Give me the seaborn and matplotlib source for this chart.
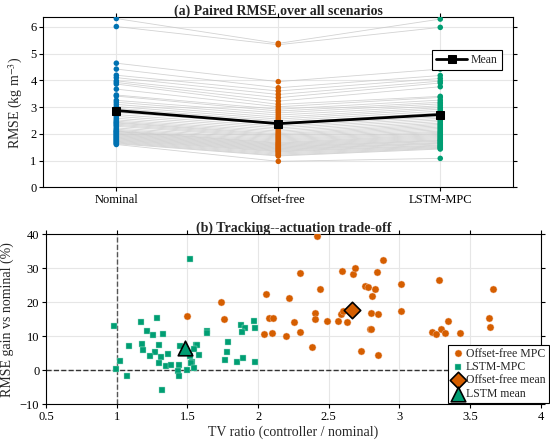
import numpy as np
import pandas as pd
import matplotlib
matplotlib.use("Agg")
import matplotlib.pyplot as plt
import seaborn as sns

# --- data --------------------------------------------------------------
controllers = ["Nominal", "Offset-free", "LSTM-MPC"]

rmse_nominal = [6.31, 6.01, 4.64, 4.42, 4.19, 4.10, 3.98, 3.92, 3.86, 3.67,
                3.45, 3.41, 3.25, 3.18, 3.10, 3.02, 2.95, 2.88, 2.80, 2.72,
                2.65, 2.58, 2.52, 2.47, 2.43, 2.40, 2.36, 2.32, 2.28, 2.22,
                2.17, 2.13, 2.10, 2.08, 2.05, 2.02, 1.99, 1.96, 1.93, 1.90,
                1.87, 1.84, 1.81, 1.78, 1.75, 1.72, 1.69, 1.66, 1.63, 1.60]
rmse_offset = [5.38, 5.33, 3.95, 3.72, 3.60, 3.47, 3.35, 3.22, 3.10, 3.01,
               2.92, 2.85, 2.78, 2.70, 2.62, 2.55, 2.48, 2.41, 2.35, 2.28,
               2.22, 2.16, 2.10, 2.05, 2.00, 1.96, 1.92, 1.88, 1.84, 1.80,
               1.76, 1.72, 1.68, 1.65, 1.62, 1.59, 1.56, 1.53, 1.50, 1.47,
               1.44, 1.41, 1.38, 1.35, 1.32, 1.28, 1.24, 1.20, 1.17, 0.97]
rmse_lstm = [6.29, 5.98, 4.42, 4.18, 4.07, 3.97, 3.90, 3.76, 3.40, 3.36,
             3.26, 3.18, 3.12, 3.05, 2.98, 2.92, 2.85, 2.78, 2.70, 2.64,
             2.58, 2.52, 2.46, 2.40, 2.35, 2.30, 2.25, 2.20, 2.15, 2.10,
             2.06, 2.02, 1.98, 1.94, 1.90, 1.86, 1.82, 1.78, 1.75, 1.72,
             1.68, 1.65, 1.62, 1.58, 1.55, 1.52, 1.49, 1.46, 1.43, 1.08]
rmse_means = [2.87, 2.38, 2.72]

tv_offset = [1.50, 1.739, 1.756, 2.419, 2.299, 2.053, 2.22, 2.438, 2.591, 2.674,
             2.688, 2.887, 2.839, 2.759, 2.778, 2.827, 2.807, 2.077, 2.105, 2.044,
             2.098, 2.20, 2.256, 2.294, 2.382, 2.405, 2.405, 2.488, 2.563, 2.584,
             2.603, 2.627, 2.797, 2.851, 2.79, 2.802, 2.729, 2.849, 3.283, 3.666,
             3.009, 3.012, 3.342, 3.635, 3.64, 3.231, 3.262, 3.292, 3.321, 3.43]
gain_offset = [16.0, 20.1, 15.0, 39.5, 28.7, 22.3, 21.3, 23.9, 29.2, 28.2,
               30.0, 32.5, 28.8, 24.9, 24.5, 23.8, 21.9, 15.4, 15.3, 10.5,
               11.0, 10.2, 14.2, 11.2, 6.9, 16.8, 15.2, 14.4, 14.5, 16.4,
               17.3, 14.2, 16.8, 16.6, 12.0, 12.2, 5.7, 4.4, 26.5, 24.0,
               25.3, 17.5, 14.6, 15.4, 12.6, 11.3, 10.5, 12.0, 11.0, 10.9]

tv_lstm = [1.515, 0.977, 1.17, 1.286, 1.21, 1.253, 1.324, 1.635, 1.635, 1.083,
           1.18, 1.182, 1.295, 1.267, 1.237, 1.312, 1.364, 1.295, 1.345, 1.385,
           1.442, 1.435, 1.442, 1.499, 1.024, 0.991, 1.074, 1.321, 1.52, 1.534,
           1.525, 1.543, 1.557, 1.567, 1.548, 1.581, 1.449, 1.789, 1.782, 1.768,
           1.876, 1.904, 1.886, 1.968, 1.975, 1.848, 1.893, 1.975]
gain_lstm = [32.6, 13.1, 14.2, 15.5, 11.6, 10.4, 10.6, 11.4, 11.0, 7.0,
             7.6, 5.9, 7.3, 5.4, 4.1, 3.9, 4.8, 2.2, 1.3, 1.5,
             1.6, -0.2, -1.6, 0.1, 2.6, 0.3, -1.8, -5.9, 4.1, 2.5,
             2.2, 0.5, 7.4, 7.4, 6.1, 4.6, 7.0, 8.4, 5.4, 3.0,
             13.4, 12.3, 11.3, 14.5, 12.4, 2.3, 3.6, 2.5]

mean_offset_tv, mean_offset_gain = 2.665, 17.7
mean_lstm_tv, mean_lstm_gain = 1.48, 6.6

colors = ["#0072B2", "#D55E00", "#009E73"]

# --- style ---------------------------------------------------------------
sns.set_theme(style="ticks")
plt.rcParams["font.family"] = ["Liberation Serif", "DejaVu Serif"]
plt.rcParams["mathtext.fontset"] = "stix"
plt.rcParams["axes.edgecolor"] = "black"
plt.rcParams["axes.linewidth"] = 0.8
plt.rcParams["grid.color"] = "#e6e6e6"
plt.rcParams["grid.linewidth"] = 0.8

fig = plt.figure(figsize=(5.5, 4.48), dpi=100)
ax1 = fig.add_axes([0.079, 0.582, 0.854, 0.379])
ax2 = fig.add_axes([0.084, 0.098, 0.899, 0.379])

# --- (a) paired RMSE -----------------------------------------------------
n = len(rmse_nominal)
df = pd.DataFrame({
    "scenario": list(range(n)) * 3,
    "pos": [0] * n + [1] * n + [2] * n,
    "controller": [controllers[0]] * n + [controllers[1]] * n + [controllers[2]] * n,
    "rmse": rmse_nominal + rmse_offset + rmse_lstm,
})

ax1.grid(True, zorder=0)
sns.lineplot(data=df, x="pos", y="rmse", units="scenario", estimator=None,
             color="#c4c4c4", lw=0.6, alpha=0.75, legend=False, ax=ax1, zorder=2)
sns.scatterplot(data=df, x="pos", y="rmse", hue="controller", hue_order=controllers,
                palette=colors, s=16, linewidth=0, legend=False, ax=ax1, zorder=3)
sns.lineplot(x=[0, 1, 2], y=rmse_means, color="black", lw=2, marker="s",
             markersize=6, markeredgecolor="black", label="Mean", ax=ax1, zorder=4)

ax1.set_xlim(-0.45, 2.45)
ax1.set_ylim(0, 6.35)
ax1.set_xticks([0, 1, 2])
ax1.set_xticklabels(controllers)
ax1.set_yticks(range(0, 7))
ax1.set_xlabel("")
ax1.set_ylabel("RMSE (kg m$^{-3}$)", fontsize=10)
ax1.set_title("(a) Paired RMSE over all scenarios", fontsize=10, fontweight="bold", pad=2)
leg1 = ax1.legend(loc="upper right", bbox_to_anchor=(0.988, 0.845), fontsize=8.5,
                  frameon=True, fancybox=False, edgecolor="black", framealpha=1,
                  handlelength=2.6, borderpad=0.35, handletextpad=0.3)
leg1.get_frame().set_linewidth(0.8)

# --- (b) tracking vs actuation ------------------------------------------
ax2.grid(True, zorder=0)
ax2.axvline(1, color="#555555", ls="--", lw=1, zorder=1)
ax2.axhline(0, color="#333333", ls="--", lw=1, zorder=1)
sns.scatterplot(x=tv_offset, y=gain_offset, color=colors[1], marker="o", s=26,
                linewidth=0.3, edgecolor="#f3c4a6", label="Offset-free MPC", ax=ax2, zorder=3)
sns.scatterplot(x=tv_lstm, y=gain_lstm, color=colors[2], marker="s", s=16,
                linewidth=0.3, edgecolor="#a6e0cc", label="LSTM-MPC", ax=ax2, zorder=3)
sns.scatterplot(x=[mean_offset_tv], y=[mean_offset_gain], color=colors[1], marker="D",
                s=70, linewidth=1.2, edgecolor="black", label="Offset-free mean", ax=ax2, zorder=4)
sns.scatterplot(x=[mean_lstm_tv], y=[mean_lstm_gain], color=colors[2], marker="^",
                s=110, linewidth=1.2, edgecolor="black", label="LSTM mean", ax=ax2, zorder=4)

ax2.set_xlim(0.5, 4)
ax2.set_ylim(-10, 40)
ax2.set_xticks(np.arange(0.5, 4.01, 0.5))
ax2.set_xticklabels(["0.5", "1", "1.5", "2", "2.5", "3", "3.5", "4"])
ax2.set_yticks(range(-10, 41, 10))
ax2.set_xlabel("TV ratio (controller / nominal)", fontsize=10, labelpad=2)
ax2.set_ylabel("RMSE gain vs nominal (%)", fontsize=10)
ax2.set_title("(b) Tracking--actuation trade-off", fontsize=10, fontweight="bold", pad=2)
leg2 = ax2.legend(loc="lower right", bbox_to_anchor=(1.016, 0.008), fontsize=8.5,
                  frameon=True, fancybox=False, edgecolor="black", framealpha=1,
                  borderpad=0.25, handletextpad=0.1, labelspacing=0.12,
                  handlelength=1.2, borderaxespad=0)
leg2.get_frame().set_linewidth(0.8)

for ax in (ax1, ax2):
    for sp in ax.spines.values():
        sp.set_visible(True)
        sp.set_color("black")
    ax.tick_params(direction="out", top=True, right=True, length=3, width=0.8,
                   labelsize=9, pad=2, colors="black")
    ax.set_axisbelow(True)

fig.savefig("out.png", dpi=100)
